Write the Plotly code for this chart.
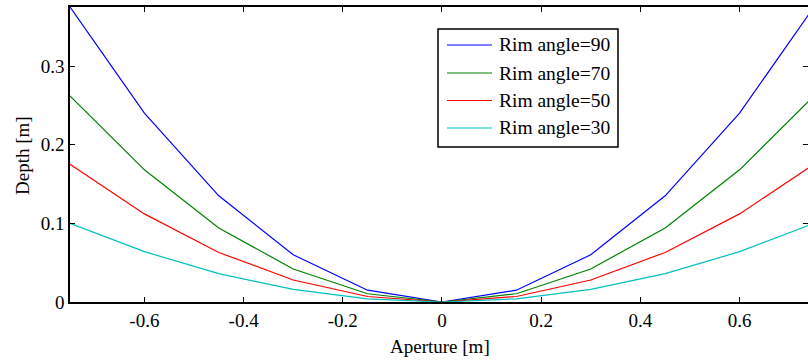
import plotly.graph_objects as go

aperture = [-0.75, -0.6, -0.45, -0.3, -0.15, 0.0, 0.15, 0.3, 0.45, 0.6, 0.75]
depth_rim90 = [0.375, 0.24, 0.135, 0.06, 0.015, 0.0, 0.015, 0.06, 0.135, 0.24, 0.375]
depth_rim70 = [0.262, 0.168, 0.094, 0.042, 0.0105, 0.0, 0.0105, 0.042, 0.094, 0.168, 0.262]
depth_rim50 = [0.175, 0.112, 0.063, 0.028, 0.007, 0.0, 0.007, 0.028, 0.063, 0.112, 0.175]
depth_rim30 = [0.100, 0.064, 0.036, 0.016, 0.004, 0.0, 0.004, 0.016, 0.036, 0.064, 0.100]
series_names = ["Rim angle=90", "Rim angle=70", "Rim angle=50", "Rim angle=30"]
series_colors = ["#0000ff", "#008000", "#ff0000", "#00bfbf"]
x_ticks = [-0.6, -0.4, -0.2, 0, 0.2, 0.4, 0.6]
x_ticklabels = ["-0.6", "-0.4", "-0.2", "0", "0.2", "0.4", "0.6"]
y_ticks = [0, 0.1, 0.2, 0.3]
y_ticklabels = ["0", "0.1", "0.2", "0.3"]

FONT = "Liberation Serif"

L, R, T, B = 70, 0, 7, 58
W, H = 808, 360
PW, PH = W - L - R, H - T - B


def px(xp):
    return (xp - L) / PW


def py(yp):
    return 1 - (yp - T) / PH


fig = go.Figure()
for name, ys, col in zip(series_names,
                         [depth_rim90, depth_rim70, depth_rim50, depth_rim30],
                         series_colors):
    fig.add_trace(go.Scatter(x=aperture, y=ys, mode="lines", name=name,
                             showlegend=False, line=dict(color=col, width=1.2)))

# legend box drawn by hand (MATLAB style)
fig.add_shape(type="rect", xref="paper", yref="paper",
              x0=px(438), x1=px(618), y0=py(147), y1=py(29),
              line=dict(color="black", width=1.5), fillcolor="white", layer="above")
row_y = [45, 73, 100.5, 128]
for name, col, yy in zip(series_names, series_colors, row_y):
    fig.add_shape(type="line", xref="paper", yref="paper",
                  x0=px(447), x1=px(492), y0=py(yy), y1=py(yy),
                  line=dict(color=col, width=1.2), layer="above")
    fig.add_annotation(text=name, xref="paper", yref="paper",
                       x=px(497), y=py(yy), xanchor="left", yanchor="middle",
                       showarrow=False,
                       font=dict(family=FONT, size=19.5, color="black"))

fig.add_annotation(text="Depth [m]", xref="paper", yref="paper",
                   x=px(22), y=py(155),
                   showarrow=False, textangle=-90, xanchor="center", yanchor="middle",
                   font=dict(family=FONT, size=19, color="black"))
fig.add_annotation(text="Aperture [m]", xref="paper", yref="paper",
                   x=px(440), y=py(346),
                   showarrow=False, xanchor="center", yanchor="middle",
                   font=dict(family=FONT, size=19, color="black"))

fig.update_layout(
    width=W, height=H,
    margin=dict(l=L, r=R, t=T, b=B, autoexpand=False),
    paper_bgcolor="white", plot_bgcolor="white",
    font=dict(family=FONT, size=19, color="black"),
    showlegend=False,
    xaxis=dict(range=[-0.75, 0.738], tickvals=x_ticks, ticktext=x_ticklabels,
               ticks="inside", ticklen=5, tickcolor="black", automargin=False,
               showline=True, linecolor="black", linewidth=1.5, mirror="ticks",
               showgrid=False, zeroline=False,
               tickfont=dict(family=FONT, size=19)),
    yaxis=dict(range=[0, 0.375], tickvals=y_ticks, ticktext=y_ticklabels,
               ticks="inside", ticklen=5, tickcolor="black", automargin=False,
               showline=True, linecolor="black", linewidth=1.5, mirror="ticks",
               showgrid=False, zeroline=False,
               tickfont=dict(family=FONT, size=19)),
)

fig.write_html("out.html", config={"displayModeBar": False},
               post_script="document.body.style.margin='0';document.body.style.overflow='hidden';")
